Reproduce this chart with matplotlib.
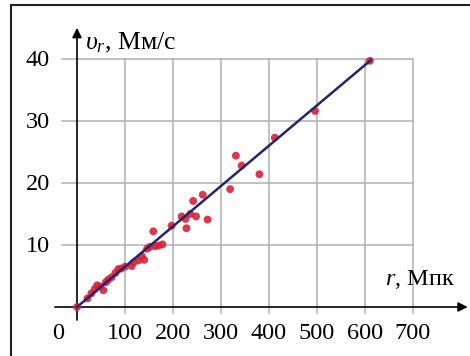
import matplotlib
matplotlib.use("Agg")
import matplotlib.pyplot as plt
from matplotlib.lines import Line2D

# distance r (Mpc) and radial velocity v_r (Mm/s)
r_data = [0, 22, 30, 37, 42, 48, 55, 60, 65, 72, 80, 86, 92, 100, 114, 118, 128, 135,
          140, 146, 152, 159, 163, 170, 178, 197, 218, 226, 228, 236, 248, 242, 262,
          272, 319, 331, 343, 380, 412, 496, 610]
v_data = [0, 1.4, 2.2, 2.9, 3.5, 3.3, 2.7, 4.0, 4.4, 4.8, 5.5, 6.1, 6.2, 6.5, 6.6, 7.2,
          7.5, 8.2, 7.6, 9.4, 9.7, 12.2, 9.8, 9.9, 10.1, 13.1, 14.6, 14.2, 12.7, 15.0,
          14.6, 17.1, 18.1, 14.1, 19.0, 24.4, 22.8, 21.4, 27.3, 31.6, 39.7]
fit_r = [0, 612]
fit_v = [0, 39.8]

x_ticks = [0, 100, 200, 300, 400, 500, 600, 700]
y_ticks = [10, 20, 30, 40]

plt.rcParams["font.family"] = ["Liberation Serif", "DejaVu Serif"]
plt.rcParams["mathtext.fontset"] = "custom"
plt.rcParams["mathtext.rm"] = "Liberation Serif"
plt.rcParams["mathtext.it"] = "Liberation Serif:italic"

fig = plt.figure(figsize=(4.7, 3.56), dpi=100)
ax = fig.add_axes([0, 0, 1, 1])
ax.set_xlim(-160.4, 818.75)
ax.set_ylim(-7.9, 49.5)
ax.axis("off")

# grid
grid_c = "#b0b0b0"
for gx in x_ticks[1:]:
    ax.plot([gx, gx], [-1, 40], color=grid_c, lw=1.1, zorder=1)
for gy in y_ticks:
    ax.plot([-31, 700], [gy, gy], color=grid_c, lw=1.1, zorder=1)

# axes with arrows
ax.annotate("", xy=(814, 0), xytext=(-46, 0),
            arrowprops=dict(arrowstyle="-|>", color="k", lw=1.2, mutation_scale=14,
                            shrinkA=0, shrinkB=0), zorder=2)
ax.annotate("", xy=(0, 45), xytext=(0, -2.1),
            arrowprops=dict(arrowstyle="-|>", color="k", lw=1.2, mutation_scale=14,
                            shrinkA=0, shrinkB=0), zorder=2)

ax.scatter(r_data, v_data, s=32, color="#d9213a", edgecolors="none", alpha=0.9, zorder=3)
ax.plot(fit_r, fit_v, color="#25256a", lw=1.8, zorder=4)

fs = 17.5
for t in x_ticks:
    xp = -40 if t == 0 else t
    ax.text(xp, -4.3, str(t), ha="center", va="center", fontsize=fs)
for t in y_ticks:
    ax.text(-56, t - 0.3, str(t), ha="right", va="center", fontsize=fs)

ax.text(17, 41.6, r"$\upsilon_r$, Мм/с", ha="left", va="baseline", fontsize=18.5)
ax.text(641, 3.6, r"$r$, Мпк", ha="left", va="baseline", fontsize=fs)

# frame (top and left only)
fig.add_artist(Line2D([11 / 470, 1], [1 - 4.5 / 356, 1 - 4.5 / 356],
                      transform=fig.transFigure, color="#222222", lw=1.5))
fig.add_artist(Line2D([11 / 470, 11 / 470], [0, 1 - 4.5 / 356],
                      transform=fig.transFigure, color="#222222", lw=1.5))

fig.savefig("out.png", dpi=100)
